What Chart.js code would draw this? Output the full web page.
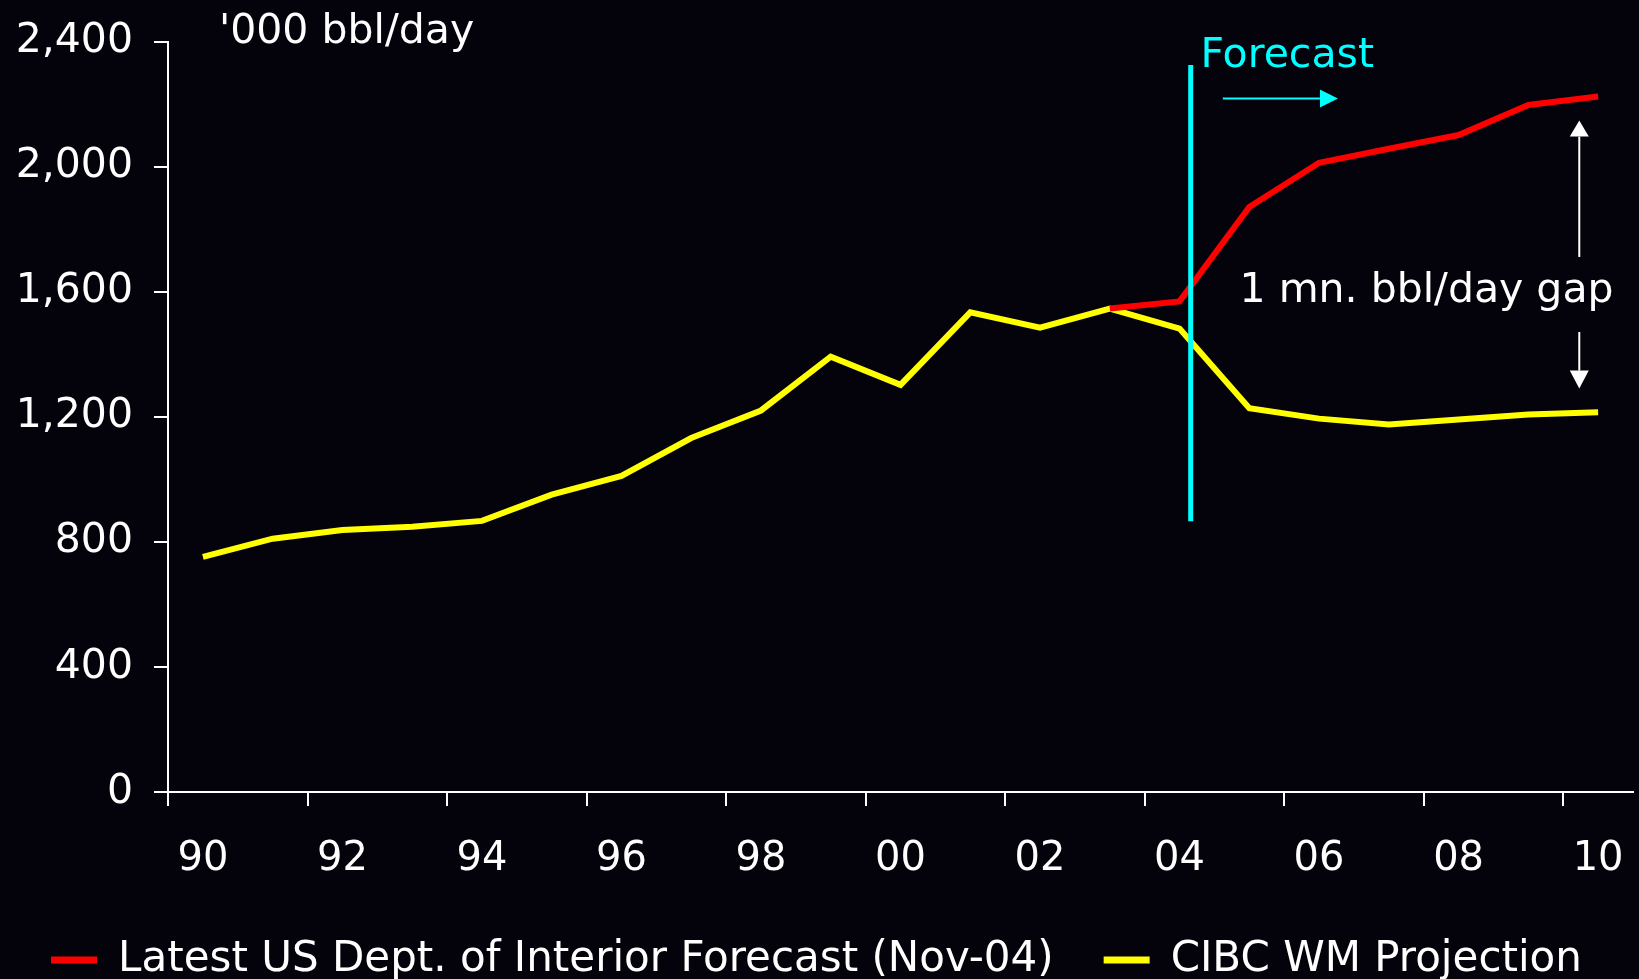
<!DOCTYPE html>
<html>
<head>
<meta charset="utf-8">
<script src="https://cdn.jsdelivr.net/npm/chart.js@4.4.1/dist/chart.umd.min.js"></script>
<style>
  html, body { margin: 0; padding: 0; background: #04030b; overflow: hidden; }
  #wrap { width: 1639px; height: 979px; position: relative; }
  canvas { display: block; }
</style>
</head>
<body>
<div id="wrap"><canvas id="oilChart"></canvas></div>
<script>
var years = ["90", "91", "92", "93", "94", "95", "96", "97", "98", "99", "00",
             "01", "02", "03", "04", "05", "06", "07", "08", "09", "10"];
var doiForecast = [null, null, null, null, null, null, null, null, null, null, null,
                   null, null, 1546, 1569, 1871, 2012, 2057, 2101, 2197, 2224];
var cibcProjection = [752, 810, 838, 848, 867, 951, 1011, 1132, 1220, 1392, 1302,
                      1534, 1485, 1546, 1482, 1227, 1194, 1175, 1191, 1207, 1214];
var yTicks = [0, 400, 800, 1200, 1600, 2000, 2400];

// annotation anchors, in axis units (category index, bbl/day)
var forecastAt = 14.16;
var forecastSpan = [866, 2325];
var forecastArrow = { from: 14.62, to: 16.27, at: 2218 };
var gapArrowAt = 19.73;
var gapUp = [1711, 2147];
var gapDown = [1471, 1290];

var font = "'DejaVu Sans', sans-serif";

function arrow(ctx, x1, y1, x2, y2, color, width, headLen, headHalf) {
  var ang = Math.atan2(y2 - y1, x2 - x1);
  var bx = x2 - Math.cos(ang) * headLen, by = y2 - Math.sin(ang) * headLen;
  ctx.strokeStyle = color;
  ctx.fillStyle = color;
  ctx.lineWidth = width;
  ctx.beginPath();
  ctx.moveTo(x1, y1);
  ctx.lineTo(bx, by);
  ctx.stroke();
  ctx.beginPath();
  ctx.moveTo(x2, y2);
  ctx.lineTo(bx - Math.sin(ang) * headHalf, by + Math.cos(ang) * headHalf);
  ctx.lineTo(bx + Math.sin(ang) * headHalf, by - Math.cos(ang) * headHalf);
  ctx.closePath();
  ctx.fill();
}

var background = {
  id: 'background',
  beforeDraw: function (chart) {
    var ctx = chart.ctx;
    ctx.save();
    ctx.fillStyle = '#04030b';
    ctx.fillRect(0, 0, chart.width, chart.height);
    ctx.restore();
  }
};

var annotations = {
  id: 'annotations',
  afterDatasetsDraw: function (chart) {
    var ctx = chart.ctx, xs = chart.scales.x, ys = chart.scales.y;
    ctx.save();
    // forecast divider
    var fx = xs.getPixelForValue(forecastAt);
    ctx.strokeStyle = '#00ffff';
    ctx.lineWidth = 5;
    ctx.beginPath();
    ctx.moveTo(fx, ys.getPixelForValue(forecastSpan[1]));
    ctx.lineTo(fx, ys.getPixelForValue(forecastSpan[0]));
    ctx.stroke();

    ctx.font = "41px " + font;
    ctx.textBaseline = 'alphabetic';
    ctx.textAlign = 'left';
    ctx.fillStyle = '#00ffff';
    ctx.fillText('Forecast', xs.getPixelForValue(14.30), ys.getPixelForValue(2320));
    arrow(ctx, xs.getPixelForValue(forecastArrow.from), ys.getPixelForValue(forecastArrow.at),
          xs.getPixelForValue(forecastArrow.to), ys.getPixelForValue(forecastArrow.at),
          '#00ffff', 2, 18, 9);

    // gap arrows and label
    var gx = xs.getPixelForValue(gapArrowAt);
    arrow(ctx, gx, ys.getPixelForValue(gapUp[0]), gx, ys.getPixelForValue(gapUp[1]), '#ffffff', 2, 16, 9.5);
    arrow(ctx, gx, ys.getPixelForValue(gapDown[0]), gx, ys.getPixelForValue(gapDown[1]), '#ffffff', 2, 18, 9.5);
    ctx.fillStyle = '#ffffff';
    ctx.fillText('1 mn. bbl/day gap', xs.getPixelForValue(14.86), ys.getPixelForValue(1567));

    // unit label
    ctx.fillText("'000 bbl/day", xs.getPixelForValue(0.23), ys.getPixelForValue(2395));
    ctx.restore();
  }
};

var ctxOil = document.getElementById("oilChart");
var oilChart = new Chart(ctxOil, {
  type: 'line',
  data: {
    labels: years,
    datasets: [
      {
        label: "Latest US Dept. of Interior Forecast (Nov-04)",
        data: doiForecast,
        borderColor: "#ff0000",
        backgroundColor: "#ff0000",
        borderWidth: 6,
        pointRadius: 0,
        tension: 0,
        spanGaps: false
      },
      {
        label: "CIBC WM Projection",
        data: cibcProjection,
        borderColor: "#ffff00",
        backgroundColor: "#ffff00",
        borderWidth: 6,
        pointRadius: 0,
        tension: 0
      }]
  },
  options: {
    responsive: true,
    maintainAspectRatio: false,
    animation: false,
    layout: { padding: { left: 0, right: 6, top: 41.5, bottom: -12 } },
    plugins: {
      tooltip: { enabled: false },
      legend: {
        position: 'bottom',
        labels: {
          color: '#ffffff',
          font: { family: font, size: 42 },
          boxWidth: 46,
          boxHeight: 7,
          padding: 50,
          generateLabels: function (chart) {
            return Chart.defaults.plugins.legend.labels.generateLabels(chart).map(function (item) {
              item.lineWidth = 0;
              return item;
            });
          }
        }
      }
    },
    scales: {
      x: {
        offset: true,
        grid: {
          offset: true,
          drawOnChartArea: false,
          tickLength: 14,
          lineWidth: 2,
          color: function (c) { return c.index % 2 === 0 ? '#ffffff' : 'rgba(0,0,0,0)'; }
        },
        border: { color: '#ffffff', width: 2 },
        ticks: {
          autoSkip: false,
          maxRotation: 0,
          padding: 30,
          color: '#ffffff',
          font: { family: font, size: 40 },
          callback: function (v, i) { return i % 2 === 0 ? years[i] : ''; }
        },
        afterFit: function (scale) {
          scale.height = 97;
          scale.paddingLeft = 0;
          scale.paddingRight = 0;
        }
      },
      y: {
        min: yTicks[0],
        max: yTicks[yTicks.length - 1],
        grid: { drawOnChartArea: false, tickLength: 14, lineWidth: 2, color: '#ffffff' },
        border: { color: '#ffffff', width: 2 },
        afterBuildTicks: function (scale) {
          scale.ticks = yTicks.map(function (v) { return { value: v }; });
        },
        ticks: {
          padding: 21,
          color: '#ffffff',
          font: { family: font, size: 41 },
          callback: function (v) { return v.toLocaleString('en-US'); }
        },
        afterFit: function (scale) {
          scale.width = 168;
          scale.paddingTop = 0;
          scale.paddingBottom = 0;
        }
      }
    }
  },
  plugins: [background, annotations]
});
</script>
</body>
</html>
